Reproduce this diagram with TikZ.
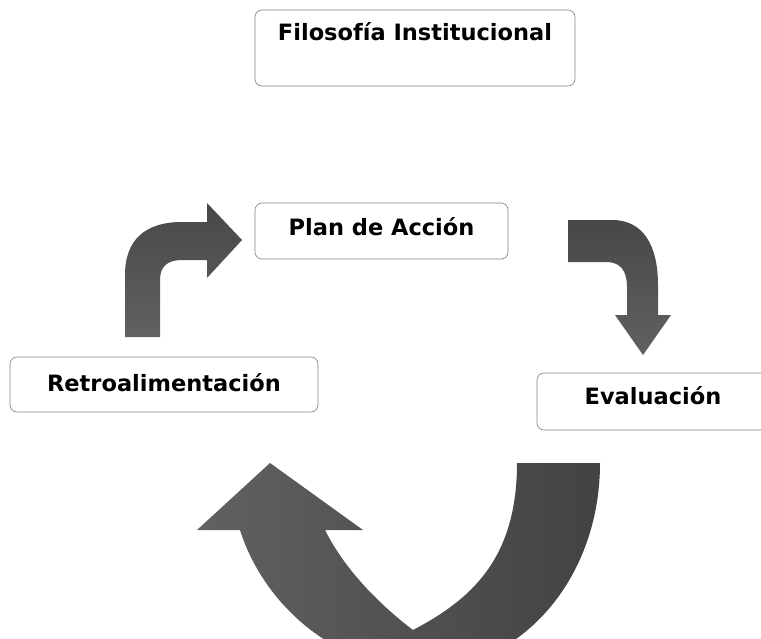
\documentclass[tikz,border=0pt]{standalone}
\usepackage{fontspec}
\setmainfont{DejaVu Sans}
\usetikzlibrary{positioning}

\tikzset{
  caja/.style={draw=black!50, line width=0.6pt, rounded corners=7pt,
    font=\fontsize{22.5}{26}\selectfont\bfseries, inner sep=0pt},
  flecha/.style={top color=black!72, middle color=black!42, bottom color=black!62},
}

\begin{document}
\begin{tikzpicture}[x=1pt,y=-1pt]
  \useasboundingbox (0,0) rectangle (761,638);

  \node[caja, minimum width=320, minimum height=76, text height=16pt, text depth=32pt]
    (filosofia) at (415,48) {Filosofía Institucional};
  \node[caja, minimum width=253, minimum height=56, text height=17pt, text depth=8pt]
    (plan) at (381.5,231) {Plan de Acción};
  \node[caja, minimum width=308, minimum height=55, text height=17pt, text depth=3pt]
    (retro) at (164,384.5) {Retroalimentación};
  \node[caja, minimum width=232, minimum height=57, text height=17pt, text depth=12pt]
    (evaluacion) at (653,401.5) {Evaluación};

  % retro -> plan
  \path[flecha, shading angle=0]
    (125,337) -- (125,275) .. controls (125,240) and (145,222) .. (182,222)
    -- (207,222) -- (207,203) -- (242,240) -- (207,278) -- (207,260) -- (182,260)
    .. controls (168,260) and (160,266) .. (160,280) -- (160,337) -- cycle;

  % plan -> evaluacion
  \path[flecha]
    (568,220) -- (612,220) .. controls (643,220) and (658,245) .. (658,285)
    -- (658,315) -- (671,315) -- (643,355) -- (615,315) -- (627,315) -- (627,287)
    .. controls (627,270) and (620,262) .. (606,262) -- (568,262) -- cycle;

  % evaluacion -> retro
  \path[left color=black!62, middle color=black!52, right color=black!74, shading angle=90]
    (600,463) .. controls (600,580) and (520,668) .. (425,670)
    .. controls (330,668) and (262,600) .. (240,530)
    -- (197,530) -- (270,463) -- (363,530) -- (325,530)
    .. controls (345,570) and (380,605) .. (413,630)
    .. controls (470,600) and (517,560) .. (517,463) -- cycle;

\end{tikzpicture}
\end{document}
